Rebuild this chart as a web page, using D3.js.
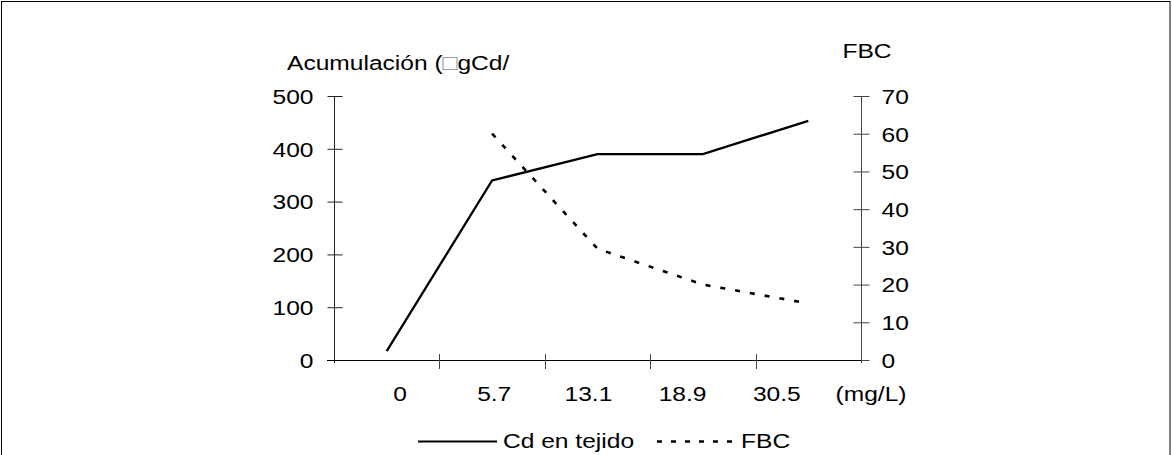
<!DOCTYPE html>
<html>
<head>
<meta charset="utf-8">
<script src="https://cdn.jsdelivr.net/npm/d3@7"></script>
<style>
  html, body { margin: 0; padding: 0; background: #fff; }
  svg { display: block; }
  text { font-family: "Liberation Sans", Arial, sans-serif; fill: #000; }
</style>
</head>
<body>
<svg id="chart" width="1172" height="455"></svg>
<script>
// ---- data ----
const categories = ["0", "5.7", "13.1", "18.9", "30.5"];
const cdTissue = [17, 340, 390, 390, 453];      // Acumulación (µgCd/...)
const fbc = [null, 60, 29.5, 20, 15];            // FBC
const xTickLabels = ["0", "5.7", "13.1", "18.9", "30.5", "(mg/L)"];
const leftTicks = [0, 100, 200, 300, 400, 500];
const rightTicks = [0, 10, 20, 30, 40, 50, 60, 70];
const leftTitleParts = ["Acumulación (", "\u25A1", "gCd/"];
const rightTitle = "FBC";
const legendNames = ["Cd en tejido", "FBC"];

// ---- layout ----
const W = 1172, H = 455;
const SX = 1.17;           // horizontal text stretch seen in the reference
const FS = 21;
const plot = { left: 334, right: 861, top: 96, bottom: 360 };

const svg = d3.select("#chart");

svg.append("rect")
  .attr("x", 1.5).attr("y", 1.5)
  .attr("width", W - 3.5).attr("height", H + 20)
  .attr("fill", "none").attr("stroke", "#000").attr("stroke-width", 1);

const x = d3.scaleBand().domain(categories).range([plot.left, plot.right]).padding(0);
const yL = d3.scaleLinear().domain([0, 500]).range([plot.bottom, plot.top]);
const yR = d3.scaleLinear().domain([0, 70]).range([plot.bottom, plot.top]);
const xLab = d3.scalePoint().domain(xTickLabels).range([400, 871]);

function label(g, px, py, str, anchor) {
  return g.append("text")
    .attr("transform", `translate(${px},${py}) scale(${SX},1)`)
    .attr("text-anchor", anchor || "start")
    .style("font-size", FS + "px")
    .text(str);
}
function stretchAxisText(g, offset, anchor) {
  g.selectAll(".tick text")
    .attr("x", offset / SX)
    .attr("dy", "0.35em")
    .attr("transform", `scale(${SX},1)`)
    .attr("text-anchor", anchor)
    .style("font-size", FS + "px")
    .style("font-family", '"Liberation Sans", Arial, sans-serif')
    .attr("fill", "#000");
}

// left axis
const gL = svg.append("g").attr("transform", `translate(${plot.left + 0.5},0)`)
  .call(d3.axisLeft(yL).tickValues(leftTicks).tickSizeOuter(0).tickFormat(d3.format("d")));
gL.select(".domain").attr("stroke", "#222").attr("d", `M0,${plot.top}V${plot.bottom + 3}`);
gL.selectAll(".tick line").attr("x1", -7).attr("x2", 8).attr("stroke", "#222");
stretchAxisText(gL, -21, "end");

// right axis
const gR = svg.append("g").attr("transform", `translate(${plot.right + 0.5},0)`)
  .call(d3.axisRight(yR).tickValues(rightTicks).tickSizeOuter(0).tickFormat(d3.format("d")));
gR.select(".domain").attr("stroke", "#444").attr("d", `M0,${plot.top}V${plot.bottom + 3}`);
gR.selectAll(".tick line").attr("x1", -8).attr("x2", 8).attr("stroke", "#444");
stretchAxisText(gR, 20, "start");

// x axis (ticks at category boundaries)
const bounds = categories.map(c => x(c)).concat([x(categories[categories.length - 1]) + x.bandwidth()]);
const gX = svg.append("g");
gX.append("line")
  .attr("x1", plot.left - 7).attr("x2", plot.right)
  .attr("y1", plot.bottom + 0.5).attr("y2", plot.bottom + 0.5)
  .attr("stroke", "#000");
gX.selectAll("line.xt").data(bounds.slice(1, -1)).join("line")
  .attr("class", "xt")
  .attr("x1", d => Math.round(d) + 0.5).attr("x2", d => Math.round(d) + 0.5)
  .attr("y1", plot.bottom - 6).attr("y2", plot.bottom + 9)
  .attr("stroke", "#444");
xTickLabels.forEach(t => label(gX, xLab(t), 401, t, "middle"));

// titles
const lt = svg.append("text")
  .attr("transform", `translate(287,70) scale(${SX},1)`)
  .style("font-size", FS + "px");
leftTitleParts.forEach((p, i) => {
  const ts = lt.append("tspan").text(p);
  if (i === 1) ts.attr("fill", "#8a8a8a").style("font-weight", "200");
});
label(svg, 867, 58, rightTitle, "middle");

// series
const cx = c => x(c) + x.bandwidth() / 2;
const lineL = d3.line().x((d, i) => cx(categories[i])).y(d => yL(d));
const lineR = d3.line().defined(d => d != null).x((d, i) => cx(categories[i])).y(d => yR(d));

svg.append("path").datum(cdTissue)
  .attr("d", lineL).attr("fill", "none")
  .attr("stroke", "#000").attr("stroke-width", 2.3).attr("stroke-linejoin", "miter");

svg.append("path").datum(fbc)
  .attr("d", lineR).attr("fill", "none")
  .attr("stroke", "#000").attr("stroke-width", 2.6).attr("stroke-dasharray", "5,10");

// legend
const lg = svg.append("g");
lg.append("line").attr("x1", 418).attr("x2", 497).attr("y1", 441.5).attr("y2", 441.5)
  .attr("stroke", "#000").attr("stroke-width", 2.2);
label(lg, 503, 448, legendNames[0], "start");
lg.append("line").attr("x1", 657).attr("x2", 738).attr("y1", 441.5).attr("y2", 441.5)
  .attr("stroke", "#000").attr("stroke-width", 2.4).attr("stroke-dasharray", "5,9");
label(lg, 741, 448, legendNames[1], "start");
</script>
</body>
</html>
